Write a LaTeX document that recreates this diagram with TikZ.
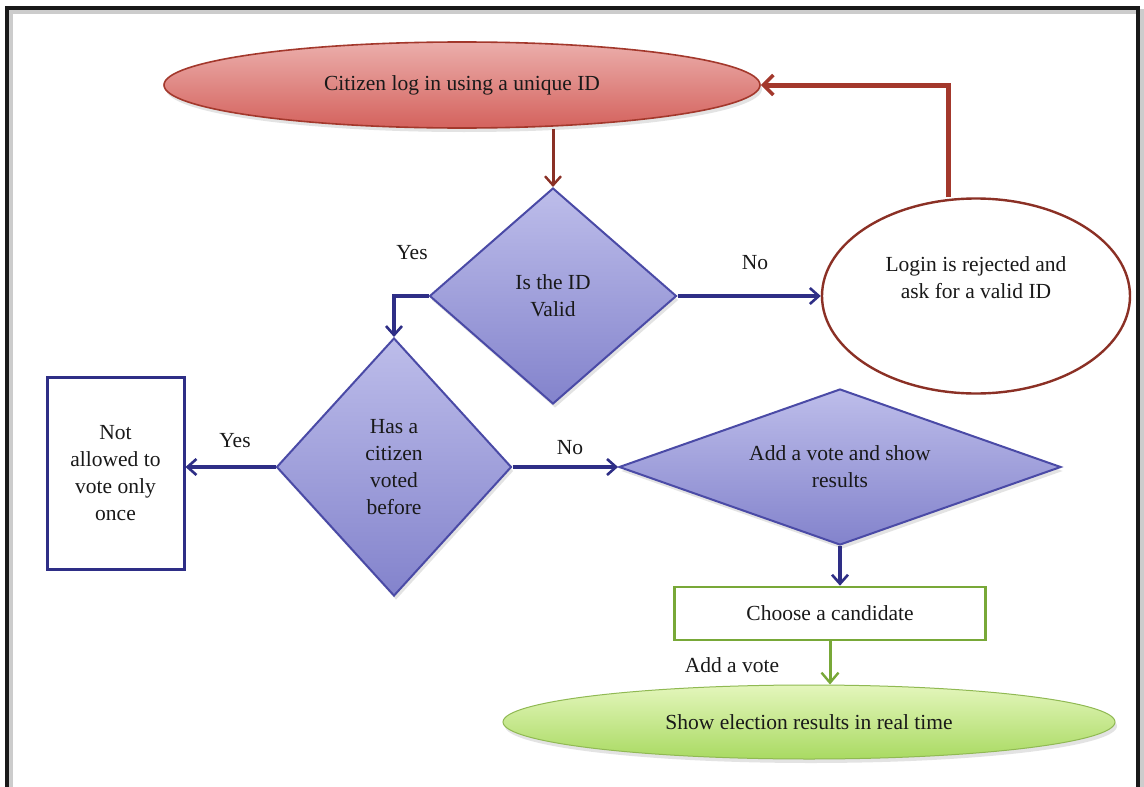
\documentclass[tikz,border=0pt]{standalone}
\usepackage{fontspec}
\setmainfont{Liberation Serif}
\usetikzlibrary{shapes.geometric,arrows.meta,shadows}
\definecolor{redfillA}{HTML}{EBAEAB}
\definecolor{redfillB}{HTML}{D4625D}
\definecolor{redline}{HTML}{A3382C}
\definecolor{bluefillA}{HTML}{BDBDEA}
\definecolor{bluefillB}{HTML}{8383CC}
\definecolor{blueline}{HTML}{4A4AA6}
\definecolor{bluedark}{HTML}{2E2E86}
\definecolor{greenline}{HTML}{78A838}
\definecolor{greenfillA}{HTML}{E4F6BC}
\definecolor{greenfillB}{HTML}{A9DA62}
\tikzset{
  txt/.style={font=\fontsize{21.5}{27}\selectfont, text=black!90, align=center},
  shad/.style={drop shadow={opacity=0.22, shadow xshift=2pt, shadow yshift=-4pt}},
  decision/.style={diamond, draw=blueline, line width=2pt, inner sep=0pt,
     top color=bluefillA, bottom color=bluefillB, shad, txt},
  bluearrow/.style={draw=bluedark, line width=3.2pt, -{Straight Barb[length=9pt,width=16pt,line width=2.6pt]}},
  redarrow/.style={draw=redline, line width=5pt, -{Straight Barb[length=10pt,width=20pt,line width=3.5pt]}},
  greenarrow/.style={draw=greenline, line width=3pt, -{Straight Barb[length=10pt,width=17pt,line width=2.4pt]}},
  lbl/.style={txt}
}
\begin{document}
\begin{tikzpicture}[x=1pt,y=-1pt]
\useasboundingbox (0,0) rectangle (1144,787);
\fill[white] (0,0) rectangle (1144,787);
% frame
\draw[line width=5pt, gray!40] (10,800) -- (10,11) -- (1141,11) -- (1141,800);
\draw[line width=3.6pt, black!90] (7,800) -- (7,8) -- (1138,8) -- (1138,800);

% nodes
\node[ellipse, draw=redline, line width=1.6pt, top color=redfillA, bottom color=redfillB,
      minimum width=596pt, minimum height=86pt, inner sep=0pt, shad, txt]
      (start) at (462,85) {Citizen log in using a unique ID};

\node[decision, aspect=1.14, minimum width=247pt, minimum height=216pt] (d1) at (553,296) {Is the ID\\Valid};

\node[ellipse, draw=redline!85!black, line width=2.4pt, fill=white, minimum width=308pt, minimum height=195pt,
      inner sep=0pt] (login) at (976,296) {};
\node[txt] (logintxt) at (976,278) {Login is rejected and\\ask for a valid ID};

\node[decision, aspect=0.91, minimum width=235pt, minimum height=258pt] (d2) at (394,467) {Has a\\citizen\\voted\\before};

\node[draw=bluedark, line width=3pt, fill=white, minimum width=137pt, minimum height=192pt,
      inner sep=0pt, txt] (notbox) at (115.5,473) {Not\\allowed to\\vote only\\once};

\node[decision, aspect=2.83, minimum width=442pt, minimum height=156pt] (d3) at (840,467) {Add a vote and show\\results};

\node[draw=greenline, line width=2.6pt, fill=white, minimum width=311pt, minimum height=53pt,
      inner sep=0pt, txt] (cand) at (830,613.5) {Choose a candidate};

\node[ellipse, draw=greenfillB!85!black, line width=1pt, top color=greenfillA, bottom color=greenfillB,
      minimum width=612pt, minimum height=74pt, inner sep=0pt, shad, txt]
      (results) at (809,722) {Show election results in real time};

% labels
\node[lbl] (yes1) at (412,253) {Yes};
\node[lbl] (no1) at (755,263) {No};
\node[lbl] (yes2) at (235,441) {Yes};
\node[lbl] (no2) at (570,448) {No};
\node[lbl] (addvote) at (732,665) {Add a vote};

% connectors
\coordinate (rc) at (948,85);
\draw[redline!85!black, line width=3pt, -{Straight Barb[length=9pt,width=16pt,line width=2.4pt]}] (start.south -| d1.north) -- (d1.north);
\draw[redarrow] (login.north -| rc) |- (start.east);
\draw[bluearrow] (d1.east) -- (login.west);
\draw[bluearrow] (d1.west) -| (d2.north);
\draw[bluearrow] (d2.west) -- (d2.west -| notbox.east);
\draw[bluearrow] (d2.east) -- (d3.west);
\draw[bluearrow] (d3.south) -- (d3.south |- cand.north);
\draw[greenarrow] (cand.south) -- (cand.south |- results.north);
\end{tikzpicture}
\end{document}
